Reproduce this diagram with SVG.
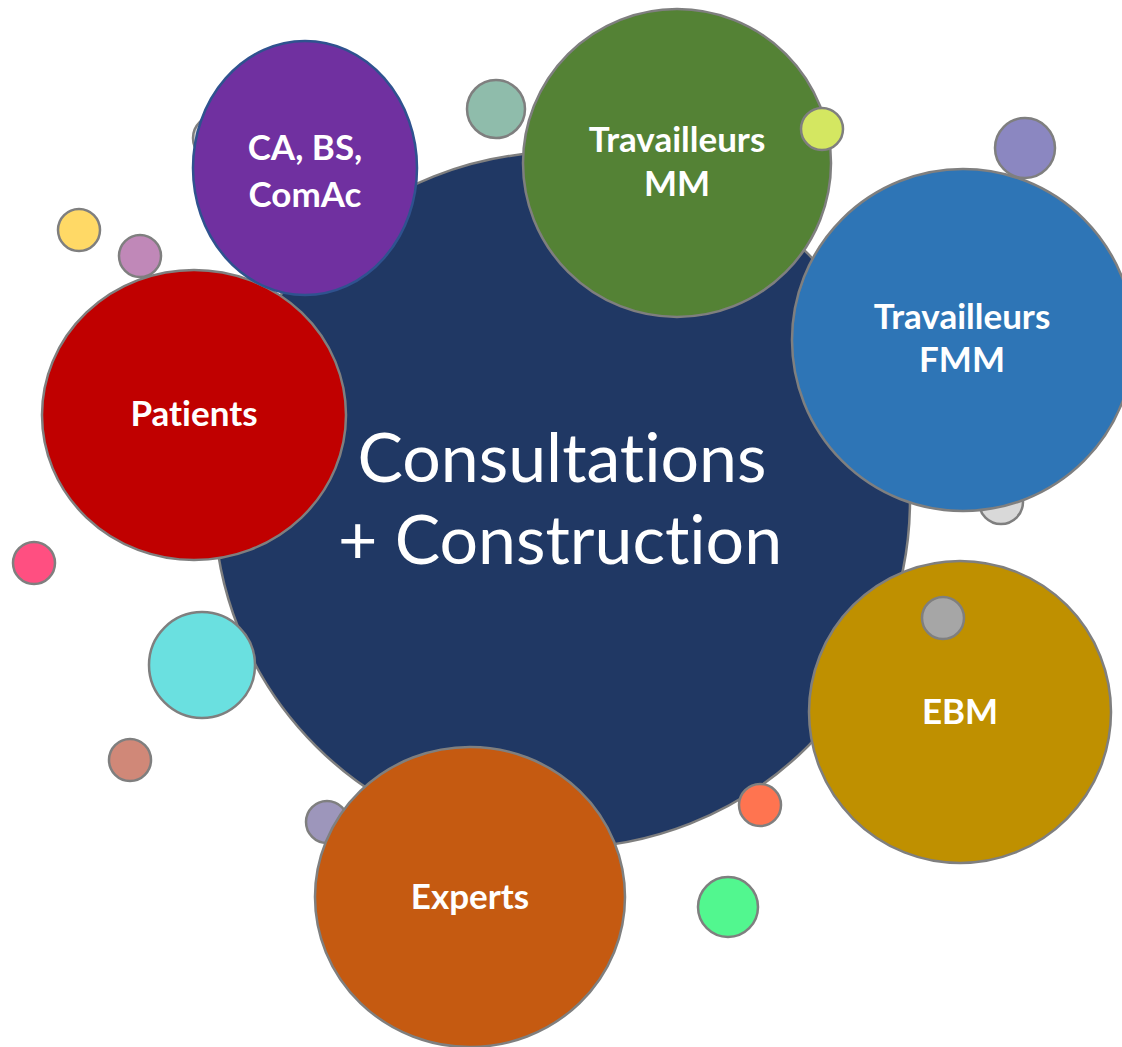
<svg xmlns="http://www.w3.org/2000/svg" width="1122" height="1047" viewBox="0 0 1122 1047">
<style>
.s{stroke:#7f7f7f;stroke-width:2.5}
.lbl{font-family:Lato,"Open Sans",sans-serif;font-weight:bold;font-size:35px;fill:#fff;text-anchor:middle;font-variant-ligatures:none}
.main{font-family:Lato,"Open Sans",sans-serif;font-size:68px;fill:#fff;text-anchor:middle;font-variant-ligatures:none}
</style>
<rect width="1122" height="1047" fill="#fff"/>
<g id="bubbles-back">
<circle class="s" cx="215" cy="138" r="22" fill="#d9d9d9"/>
<circle class="s" cx="140" cy="256" r="21" fill="#c088b8"/>
<circle class="s" cx="1001" cy="502" r="22" fill="#d9d9d9"/>
<circle class="s" cx="327" cy="822" r="21" fill="#9d96bb"/>
</g>
<g id="center">
<circle class="s" cx="562" cy="500" r="348" fill="#203864"/>
<text class="main" x="562" y="482">Consultations</text>
<text class="main" x="560" y="564">+ Construction</text>
</g>
<g id="patients">
<ellipse class="s" cx="194" cy="415" rx="152" ry="145" fill="#c00000"/>
<text class="lbl" x="194" y="426">Patients</text>
</g>
<g id="ca">
<ellipse cx="305" cy="168" rx="112" ry="127" fill="#7030a0" stroke="#2f528f" stroke-width="2.5"/>
<text class="lbl" x="305" y="160">CA, BS,</text>
<text class="lbl" x="305" y="207">ComAc</text>
</g>
<g id="mm">
<circle class="s" cx="677" cy="163" r="154" fill="#548235"/>
<text class="lbl" x="677" y="152">Travailleurs</text>
<text class="lbl" x="677" y="196">MM</text>
</g>
<g id="fmm">
<circle class="s" cx="963" cy="340" r="171" fill="#2e75b6"/>
<text class="lbl" x="962" y="329">Travailleurs</text>
<text class="lbl" x="962" y="372">FMM</text>
</g>
<g id="ebm">
<circle class="s" cx="960" cy="712" r="151" fill="#bf9000"/>
<text class="lbl" x="960" y="724">EBM</text>
</g>
<g id="experts">
<ellipse class="s" cx="470" cy="897" rx="155" ry="150" fill="#c55a11"/>
<text class="lbl" x="470" y="909">Experts</text>
</g>
<g id="bubbles-front">
<circle class="s" cx="496" cy="109" r="29" fill="#8fbcab"/>
<circle class="s" cx="822" cy="129" r="21" fill="#d4e761"/>
<circle class="s" cx="1025" cy="148" r="30" fill="#8b87c1"/>
<circle class="s" cx="79" cy="230" r="21" fill="#ffd966"/>
<circle class="s" cx="34" cy="563" r="21" fill="#ff4f81"/>
<circle class="s" cx="202" cy="665" r="53" fill="#6ae0e0"/>
<circle class="s" cx="130" cy="760" r="21" fill="#d08878"/>
<circle class="s" cx="943" cy="618" r="21" fill="#a6a6a6"/>
<circle class="s" cx="760" cy="805" r="21" fill="#ff7450"/>
<circle class="s" cx="728" cy="907" r="30" fill="#52f78f"/>
</g>
<g id="connectors"></g>
</svg>
